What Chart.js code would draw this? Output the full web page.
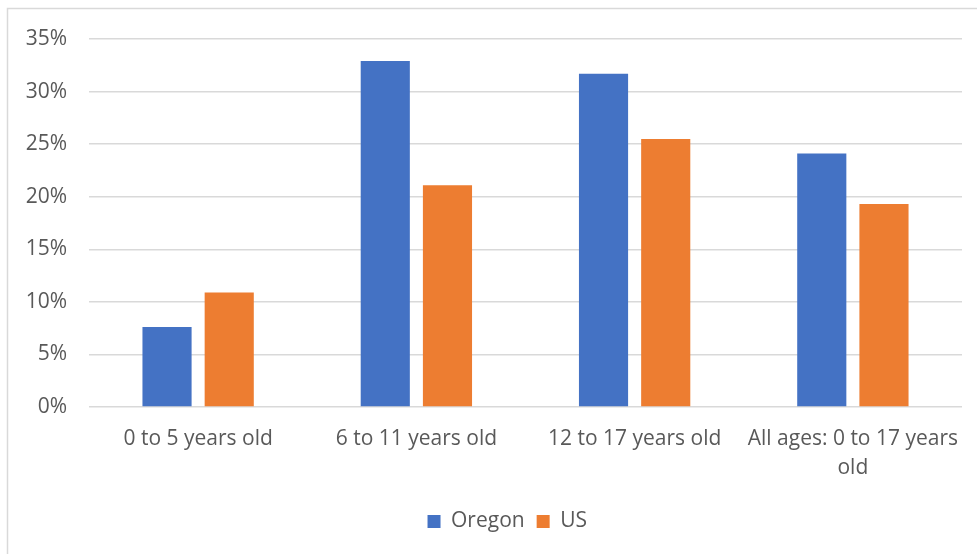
<!DOCTYPE html>
<html>
<head>
<meta charset="utf-8">
<script src="https://cdn.jsdelivr.net/npm/chart.js@4/dist/chart.umd.min.js"></script>
<style>
  html, body { margin: 0; padding: 0; background: #ffffff; }
  #wrap { width: 977px; height: 554px; position: relative; }
</style>
</head>
<body>
<div id="wrap"><canvas id="c" width="977" height="554"></canvas></div>
<script>
// Age groups along the x axis
const categories = [
  '0 to 5 years old',
  '6 to 11 years old',
  '12 to 17 years old',
  ['All ages: 0 to 17 years', 'old']
];
// Percent values per group
const oregonValues = [7.6, 32.9, 31.7, 24.1];
const usValues = [10.9, 21.1, 25.5, 19.3];
// Y axis range and step (percent)
const yMax = 35;
const yStep = 5;

const textColor = '#595959';
const fontFamily = '"Open Sans", "Liberation Sans", sans-serif';
const fontSize = 21;

// Frame box: starts near the top-left corner and runs past the canvas edges
const frameLeft = 7.5;
const frameTop = 8.5;
const frameOverhang = 30;

// Thin grey frame around the chart box
const framePlugin = {
  id: 'frame',
  beforeDraw(chart) {
    const ctx = chart.ctx;
    ctx.save();
    ctx.fillStyle = '#ffffff';
    ctx.fillRect(0, 0, chart.width, chart.height);
    ctx.strokeStyle = '#d9d9d9';
    ctx.lineWidth = 1.5;
    ctx.strokeRect(frameLeft, frameTop,
      chart.width + frameOverhang - frameLeft, chart.height + frameOverhang);
    ctx.restore();
  }
};

// Center the legend within the frame box
const legendShiftPlugin = {
  id: 'legendShift',
  afterLayout(chart) {
    const lg = chart.legend;
    if (!lg) return;
    const frameCenter = (frameLeft + chart.width + frameOverhang) / 2;
    const shift = frameCenter - (lg.left + lg.right) / 2;
    lg.left += shift;
    lg.right += shift;
  }
};

new Chart(document.getElementById('c'), {
  type: 'bar',
  data: {
    labels: categories,
    datasets: [
      { label: 'Oregon', data: oregonValues, backgroundColor: '#4472C4',
        categoryPercentage: 0.57, barPercentage: 0.79 },
      { label: 'US', data: usValues, backgroundColor: '#ED7D31',
        categoryPercentage: 0.57, barPercentage: 0.79 }
    ]
  },
  options: {
    responsive: false,
    animation: false,
    devicePixelRatio: 1,
    layout: { padding: { top: 39, right: 15, bottom: 12, left: 0 } },
    plugins: {
      title: { display: false },
      tooltip: { enabled: false },
      legend: {
        position: 'bottom',
        labels: {
          boxWidth: 13, boxHeight: 13, padding: 12,
          color: textColor,
          font: { family: fontFamily, size: fontSize }
        }
      }
    },
    scales: {
      x: {
        grid: { display: false, drawTicks: false },
        border: { display: false },
        ticks: {
          color: textColor, padding: 17, maxRotation: 0, autoSkip: false,
          font: { family: fontFamily, size: fontSize, lineHeight: 1.4 }
        },
        afterFit(s) { s.height = 92; }
      },
      y: {
        min: 0, max: yMax,
        grid: { color: '#d9d9d9', lineWidth: 1.5, drawTicks: false },
        border: { display: false },
        ticks: {
          stepSize: yStep, color: textColor, padding: 22,
          font: { family: fontFamily, size: fontSize },
          callback: v => v + '%'
        },
        afterFit(s) { s.width = 89; }
      }
    }
  },
  plugins: [framePlugin, legendShiftPlugin]
});
</script>
</body>
</html>
